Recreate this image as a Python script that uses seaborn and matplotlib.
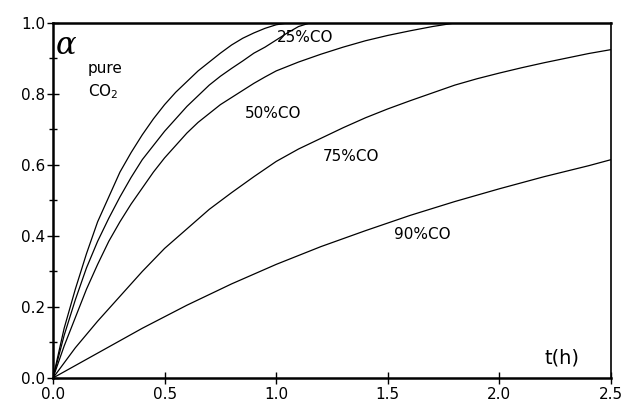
import matplotlib.pyplot as plt
import matplotlib.ticker as ticker
import pandas as pd
import seaborn as sns

# conversion alpha vs time t(h)
t_co2 = [0, 0.05, 0.1, 0.15, 0.2, 0.25, 0.3, 0.35, 0.4, 0.45, 0.5, 0.55, 0.6, 0.65, 0.7,
         0.75, 0.8, 0.85, 0.9, 0.95, 1.0, 1.05]
a_co2 = [0, 0.14, 0.25, 0.35, 0.44, 0.51, 0.58, 0.635, 0.685, 0.73, 0.77, 0.805, 0.835, 0.865, 0.89,
         0.915, 0.938, 0.957, 0.972, 0.985, 0.995, 1.0]

t_25 = [0, 0.05, 0.1, 0.15, 0.2, 0.25, 0.3, 0.35, 0.4, 0.45, 0.5, 0.55, 0.6, 0.65, 0.7,
        0.75, 0.8, 0.85, 0.9, 0.95, 1.0, 1.05, 1.1, 1.15]
a_25 = [0, 0.12, 0.22, 0.31, 0.385, 0.45, 0.51, 0.565, 0.615, 0.655, 0.695, 0.73, 0.765, 0.795, 0.825,
        0.85, 0.872, 0.893, 0.915, 0.932, 0.952, 0.972, 0.99, 1.0]

t_50 = [0, 0.05, 0.1, 0.15, 0.2, 0.25, 0.3, 0.35, 0.4, 0.45, 0.5, 0.55, 0.6, 0.65, 0.7,
        0.75, 0.8, 0.85, 0.9, 0.95, 1.0, 1.1, 1.2, 1.3, 1.4, 1.5, 1.6, 1.7, 1.8]
a_50 = [0, 0.09, 0.17, 0.25, 0.32, 0.385, 0.44, 0.49, 0.535, 0.58, 0.62, 0.655, 0.69, 0.72, 0.745,
        0.77, 0.79, 0.81, 0.83, 0.848, 0.865, 0.89, 0.912, 0.932, 0.95, 0.965, 0.978, 0.99, 1.0]

t_75 = [0, 0.1, 0.2, 0.3, 0.4, 0.5, 0.6, 0.7, 0.8, 0.9, 1.0, 1.1, 1.2, 1.3, 1.4,
        1.5, 1.6, 1.7, 1.8, 1.9, 2.0, 2.1, 2.2, 2.3, 2.4, 2.5]
a_75 = [0, 0.085, 0.16, 0.23, 0.30, 0.365, 0.42, 0.475, 0.522, 0.567, 0.61, 0.645, 0.675, 0.705, 0.733,
        0.758, 0.781, 0.803, 0.825, 0.843, 0.859, 0.874, 0.888, 0.901, 0.914, 0.925]

t_90 = [0, 0.2, 0.4, 0.6, 0.8, 1.0, 1.2, 1.4, 1.6, 1.8, 2.0, 2.2, 2.4, 2.5]
a_90 = [0, 0.07, 0.14, 0.205, 0.265, 0.32, 0.37, 0.415, 0.458, 0.497, 0.533, 0.567, 0.598, 0.615]

series = {
    "pure CO2": (t_co2, a_co2),
    "25%CO": (t_25, a_25),
    "50%CO": (t_50, a_50),
    "75%CO": (t_75, a_75),
    "90%CO": (t_90, a_90),
}

records = []
for name, (ts, als) in series.items():
    for t, a in zip(ts, als):
        records.append({"gas": name, "t": t, "alpha": a})
df = pd.DataFrame(records)

sns.set_style("ticks")
plt.rcParams["font.family"] = ["DejaVu Sans"]
plt.rcParams["text.color"] = "black"
plt.rcParams["xtick.color"] = "black"
plt.rcParams["ytick.color"] = "black"

fig, ax = plt.subplots(figsize=(6.27, 4.07), dpi=100)
plt.subplots_adjust(left=0.0845, right=0.9745, top=0.9435, bottom=0.0713)

for name in series:
    sns.lineplot(data=df[df.gas == name], x="t", y="alpha", color="black",
                 linewidth=0.9, sort=False, ax=ax)

ax.set_xlim(0, 2.5)
ax.set_ylim(0, 1.0)
ax.set_xlabel("")
ax.set_ylabel("")

ax.xaxis.set_major_locator(ticker.MultipleLocator(0.5))
ax.yaxis.set_major_locator(ticker.MultipleLocator(0.2))
ax.yaxis.set_minor_locator(ticker.MultipleLocator(0.1))
ax.xaxis.set_major_formatter(ticker.FormatStrFormatter("%.1f"))
ax.yaxis.set_major_formatter(ticker.FormatStrFormatter("%.1f"))
ax.tick_params(axis="both", which="major", direction="inout", length=9, width=1,
               labelsize=11, colors="black", pad=2)
ax.tick_params(axis="y", which="minor", direction="inout", length=6, width=1)
ax.tick_params(axis="y", which="major", pad=1)

for side in ["left", "bottom", "top"]:
    ax.spines[side].set_linewidth(1.8)
ax.spines["right"].set_linewidth(1.2)
for side in ax.spines:
    ax.spines[side].set_visible(True)
    ax.spines[side].set_color("black")

ax.text(0.058, 0.938, "α", fontsize=22, style="italic", family="DejaVu Serif",
        ha="center", va="center")
ax.text(0.157, 0.873, "pure", fontsize=11, ha="left", va="center")
ax.text(0.157, 0.806, "CO$_2$", fontsize=11, ha="left", va="center")
ax.text(1.004, 0.96, "25%CO", fontsize=11, ha="left", va="center")
ax.text(0.86, 0.744, "50%CO", fontsize=11, ha="left", va="center")
ax.text(1.21, 0.623, "75%CO", fontsize=11, ha="left", va="center")
ax.text(1.53, 0.403, "90%CO", fontsize=11, ha="left", va="center")
ax.text(2.20, 0.056, "t(h)", fontsize=14, ha="left", va="center")

fig.savefig("out.png", dpi=100)
